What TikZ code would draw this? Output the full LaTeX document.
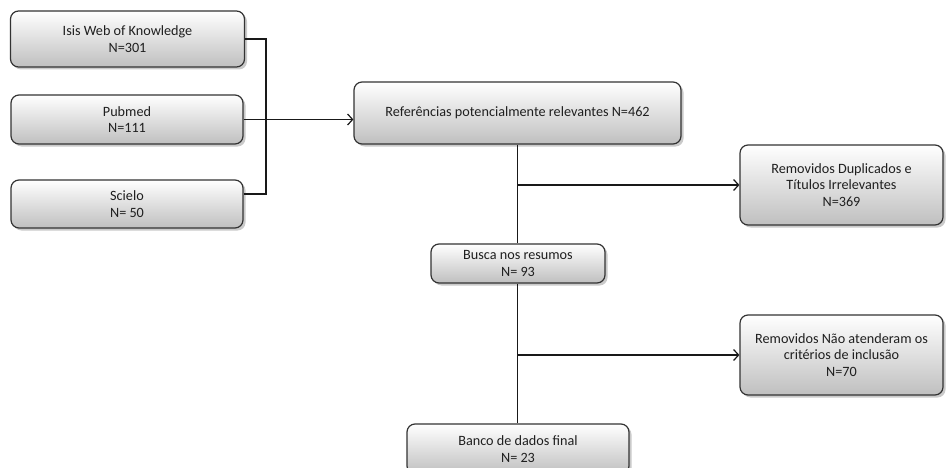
\documentclass[tikz,border=0pt]{standalone}
\usepackage{fontspec}
\setmainfont{Carlito}
\usetikzlibrary{shadows,arrows.meta,calc}

\tikzset{
  box/.style={draw=black!80, line width=1.2pt, rounded corners=8pt,
    top color=white, bottom color=black!25, align=center,
    inner sep=0pt, font=\fontsize{14.2}{16.5}\selectfont, text=black!88,
    drop shadow={shadow xshift=2.5pt, shadow yshift=-2.5pt, opacity=0.35, fill=black!60}},
  link/.style={line width=1.2pt, draw=black!90},
  arr/.style={link, -{Straight Barb[length=5pt,width=11pt,line width=1.2pt]}}
}

\begin{document}
\begin{tikzpicture}[x=1pt, y=-1pt]
  \useasboundingbox (0,0) rectangle (947,468);

  % sources
  \node[box, minimum width=234pt, minimum height=56pt] (isis) at (127.5,39) {Isis Web of Knowledge\\N=301};
  \node[box, minimum width=232pt, minimum height=49pt] (pubmed) at (127,119.5) {Pubmed\\N=111};
  \node[box, minimum width=232pt, minimum height=48pt] (scielo) at (127,204) {Scielo\\N= 50};

  % main flow
  \node[box, minimum width=327pt, minimum height=62pt] (ref) at (517.5,113) {Referências potencialmente relevantes N=462};
  \node[box, minimum width=174pt, minimum height=39pt] (busca) at (518,263.5) {Busca nos resumos\\N= 93};
  \node[box, minimum width=222pt, minimum height=50pt] (banco) at (518,449) {Banco de dados final\\N= 23};

  % exclusions
  \node[box, minimum width=203pt, minimum height=80pt] (rem1) at (841.5,185) {Removidos Duplicados e\\Títulos Irrelevantes\\N=369};
  \node[box, minimum width=203pt, minimum height=80pt] (rem2) at (841.5,355) {Removidos Não atenderam os\\critérios de inclusão\\N=70};

  % bracket joining the three sources
  \coordinate (j) at (266,119.5);
  \draw[link] (isis.east) -| (j);
  \draw[link] ($(scielo.east)+(0,-10)$) -| (j);
  \draw[link] (pubmed.east) -- (j);
  \draw[arr] (j) -- (ref.west |- j);

  % vertical trunk with side branches
  \draw[link] (ref.south) -- (ref.south |- busca.north);
  \draw[arr] (ref.south |- rem1.west) -- (rem1.west);
  \draw[link] (ref.south |- busca.south) -- (ref.south |- banco.north);
  \draw[arr] (ref.south |- rem2.west) -- (rem2.west);
\end{tikzpicture}
\end{document}
